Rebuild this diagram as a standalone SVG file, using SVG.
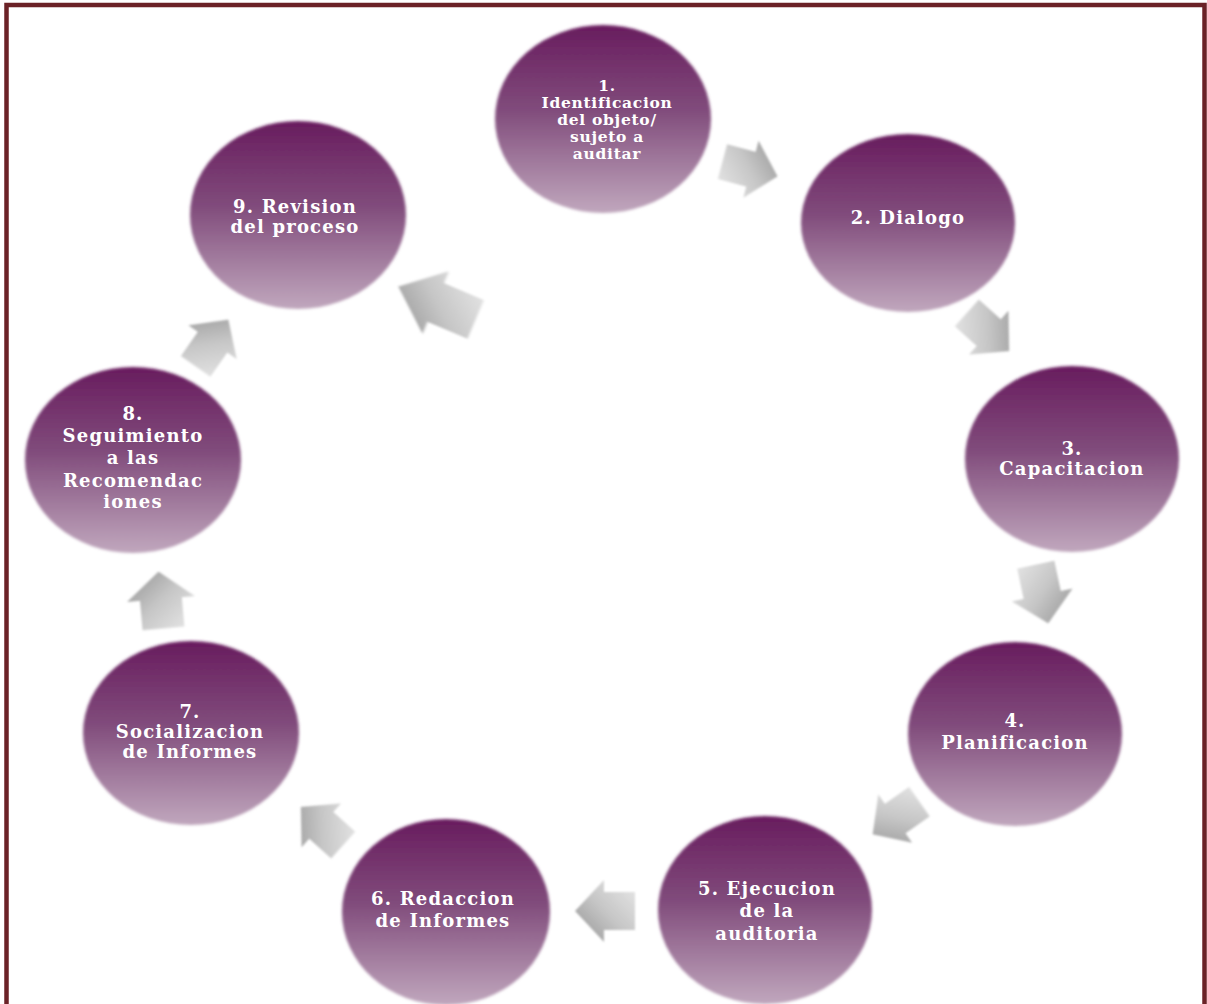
<svg xmlns="http://www.w3.org/2000/svg" width="1207" height="1004" viewBox="0 0 1207 1004">
<defs>
<linearGradient id="cg" x1="0" y1="0" x2="0" y2="1">
<stop offset="0" stop-color="#681c5e"/>
<stop offset="0.45" stop-color="#804b7b"/>
<stop offset="1" stop-color="#c0a7bd"/>
</linearGradient>
<linearGradient id="ag" x1="0" y1="1" x2="1" y2="0">
<stop offset="0" stop-color="#e8e8e8"/>
<stop offset="0.5" stop-color="#c6c6c6"/>
<stop offset="1" stop-color="#929292"/>
</linearGradient>
<filter id="soft" x="-10%" y="-10%" width="120%" height="120%">
<feGaussianBlur stdDeviation="1.6"/>
</filter>
<filter id="softa" x="-20%" y="-20%" width="140%" height="140%">
<feGaussianBlur stdDeviation="1"/>
</filter>
<path id="arr" d="M-30,-19 L1,-19 L1,-31 L30,0 L1,31 L1,19 L-30,19 Z"/>
</defs>
<style>
.c{fill:url(#cg);filter:url(#soft)}
.a{fill:url(#ag);filter:url(#softa)}
text{font-family:"DejaVu Serif","Liberation Serif",serif;font-weight:bold;font-size:18px;fill:#ffffff;text-anchor:middle;letter-spacing:1.2px}
.sm{font-size:15.5px;letter-spacing:0.7px}
</style>
<rect x="0" y="0" width="1207" height="1004" fill="#ffffff"/>
<rect x="6.5" y="5" width="1198" height="1020" fill="none" stroke="#6b2227" stroke-width="4.5"/>

<g id="connectors">
<use href="#arr" class="a" transform="translate(750,169) rotate(15) scale(0.95)"/>
<use href="#arr" class="a" transform="translate(988,332) rotate(42) scale(0.95)"/>
<use href="#arr" class="a" transform="translate(1042,594) rotate(78)"/>
<use href="#arr" class="a" transform="translate(896,818) rotate(145) scale(0.95)"/>
<use href="#arr" class="a" transform="translate(605,911) rotate(180)"/>
<use href="#arr" class="a" transform="translate(322,826) rotate(222) scale(0.95)"/>
<use href="#arr" class="a" transform="translate(161,600) rotate(265) scale(0.95,1.1)"/>
<use href="#arr" class="a" transform="translate(212,343) rotate(305) scale(0.95)"/>
<use href="#arr" class="a" transform="translate(437,303) rotate(203) scale(1.4,1.1)"/>
</g>

<g id="n1">
<ellipse class="c" cx="603" cy="119" rx="108" ry="94"/>
<text class="sm" x="607" y="91">1.</text>
<text class="sm" x="607" y="108">Identificacion</text>
<text class="sm" x="607" y="125">del objeto/</text>
<text class="sm" x="607" y="142">sujeto a</text>
<text class="sm" x="607" y="159">auditar</text>
</g>
<g id="n2">
<ellipse class="c" cx="908" cy="223" rx="107" ry="89"/>
<text x="908" y="224">2. Dialogo</text>
</g>
<g id="n3">
<ellipse class="c" cx="1072" cy="459" rx="107" ry="93"/>
<text x="1072" y="455">3.</text>
<text x="1072" y="475">Capacitacion</text>
</g>
<g id="n4">
<ellipse class="c" cx="1015" cy="734" rx="107" ry="92"/>
<text x="1015" y="727">4.</text>
<text x="1015" y="749">Planificacion</text>
</g>
<g id="n5">
<ellipse class="c" cx="765" cy="910" rx="107" ry="94"/>
<text x="767" y="895">5. Ejecucion</text>
<text x="767" y="917">de la</text>
<text x="767" y="940">auditoria</text>
</g>
<g id="n6">
<ellipse class="c" cx="446" cy="912" rx="104" ry="93"/>
<text x="443" y="905">6. Redaccion</text>
<text x="443" y="927">de Informes</text>
</g>
<g id="n7">
<ellipse class="c" cx="191" cy="733" rx="108" ry="92"/>
<text x="190" y="718">7.</text>
<text x="190" y="738">Socializacion</text>
<text x="190" y="758">de Informes</text>
</g>
<g id="n8">
<ellipse class="c" cx="133" cy="460" rx="108" ry="93"/>
<text x="133" y="420">8.</text>
<text x="133" y="442">Seguimiento</text>
<text x="133" y="464">a las</text>
<text x="133" y="487">Recomendac</text>
<text x="133" y="508">iones</text>
</g>
<g id="n9">
<ellipse class="c" cx="298" cy="215" rx="108" ry="94"/>
<text x="295" y="213">9. Revision</text>
<text x="295" y="233">del proceso</text>
</g>
</svg>
